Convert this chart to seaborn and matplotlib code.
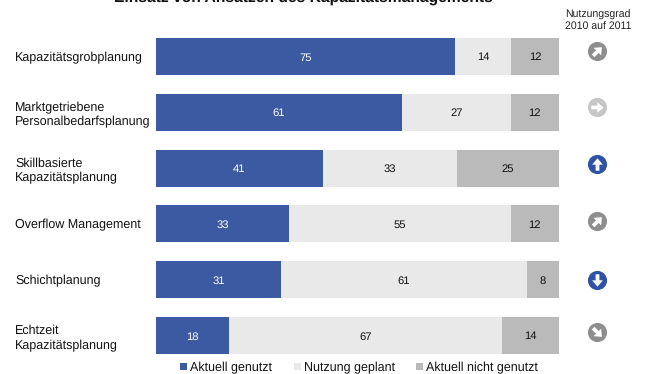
import numpy as np
import pandas as pd
import seaborn as sns
import matplotlib
matplotlib.use("Agg")
import matplotlib.pyplot as plt
from matplotlib.markers import MarkerStyle
from matplotlib.patches import Patch
from matplotlib.path import Path
from matplotlib.transforms import Affine2D

categories = [
    "Kapazitätsgrobplanung",
    "Marktgetriebene\nPersonalbedarfsplanung",
    "Skillbasierte\nKapazitätsplanung",
    "Overflow Management",
    "Schichtplanung",
    "Echtzeit\nKapazitätsplanung",
]
aktuell_genutzt = [75, 61, 41, 33, 31, 18]
nutzung_geplant = [14, 27, 33, 55, 61, 67]
nicht_genutzt = [12, 12, 25, 12, 8, 14]
trend_angle = [-45, -90, 0, -45, 180, -135]
trend_color = ["#8E8E8E", "#C6C6C6", "#2F52A4", "#8E8E8E", "#2F52A4", "#8E8E8E"]
trend_shift = [-0.10, -0.10, -0.07, -0.06, 0.0, -0.06]

series_names = ["Aktuell genutzt", "Nutzung geplant", "Aktuell nicht genutzt"]
series_colors = ["#3C5AA2", "#E9E9E9", "#BABABA"]
label_colors = ["white", "#111111", "#111111"]

sns.set_theme(style="white")
plt.rcParams["font.family"] = ["Liberation Sans", "DejaVu Sans"]
plt.rcParams["text.hinting"] = "none"

W, H = 648, 374
fig = plt.figure(figsize=(W / 100, H / 100), dpi=100)
ax = fig.add_axes([156 / W, 1 - 363.4 / H, 403 / W, 334.8 / H])

# Each row is stacked to its own total, so all bars end at the same edge
table = pd.DataFrame(
    {"cat": categories, "a": aktuell_genutzt, "b": nutzung_geplant, "c": nicht_genutzt}
)
parts = table[["a", "b", "c"]].to_numpy(dtype=float)
totals = parts.sum(axis=1, keepdims=True)
cumulative = np.cumsum(parts / totals, axis=1)

# Layers go from the longest cumulative run to the shortest
for col in (2, 1, 0):
    sns.barplot(
        x=cumulative[:, col], y=categories, order=categories, orient="h",
        color=series_colors[col], saturation=1, width=0.665, linewidth=0, ax=ax,
    )

ax.set_xlim(0, 1)
ax.set_ylim(5.5, -0.5)
ax.set_xlabel("")
ax.set_ylabel("")
ax.xaxis.set_visible(False)
sns.despine(ax=ax, left=True, bottom=True)
ax.tick_params(axis="y", length=0, pad=101.5, labelsize=9.0, labelcolor="#111111")
for lab in ax.get_yticklabels():
    lab.set_ha("left")
    lab.set_linespacing(1.27)

# Value labels in the middle of each segment
starts = np.hstack([np.zeros((len(categories), 1)), cumulative[:, :-1]])
for row in range(len(categories)):
    for col in range(3):
        ax.text(
            (starts[row, col] + cumulative[row, col]) / 2, row + 0.02,
            str(int(parts[row, col])), ha="center", va="center",
            fontsize=8.1, color=label_colors[col],
        )

# Circular trend icons to the right of the bars
arrow = Path(
    [(-0.22, 0.72), (0.22, 0.72), (0.22, 0.02), (0.62, 0.02), (0, -0.72),
     (-0.62, 0.02), (-0.22, 0.02), (-0.22, 0.72)],
    closed=False,
)
trend_x = 1.0945
for row, (angle, color, shift) in enumerate(zip(trend_angle, trend_color, trend_shift)):
    ax.scatter([trend_x], [row + shift], s=190, color=color, linewidth=0, clip_on=False, zorder=3)
    marker = MarkerStyle(arrow, transform=Affine2D().rotate_deg(angle + 180))
    ax.scatter([trend_x], [row + shift], s=80, color="white", marker=marker,
               linewidth=0, clip_on=False, zorder=4)

fig.text(598 / W, 1 - 21 / H, "Nutzungsgrad\n2010 auf 2011", ha="center", va="center",
         fontsize=7.6, color="#222222", linespacing=1.3)

fig.text(303 / W, 1 + 2 / H, "Einsatz von Ansätzen des Kapazitätsmanagements",
         ha="center", va="center", fontsize=11.25, fontweight="bold", color="#111111")

handles = [Patch(facecolor=c, edgecolor="none") for c in series_colors]
fig.legend(
    handles, series_names, loc="center left", bbox_to_anchor=(180 / W, 1 - 367.5 / H), ncol=3,
    frameon=False, fontsize=9.0, labelcolor="#111111", handlelength=0.56, handleheight=0.56,
    handletextpad=0.24, columnspacing=1.72, borderaxespad=0, borderpad=0,
)

fig.savefig("out.png", dpi=100, facecolor="white")
